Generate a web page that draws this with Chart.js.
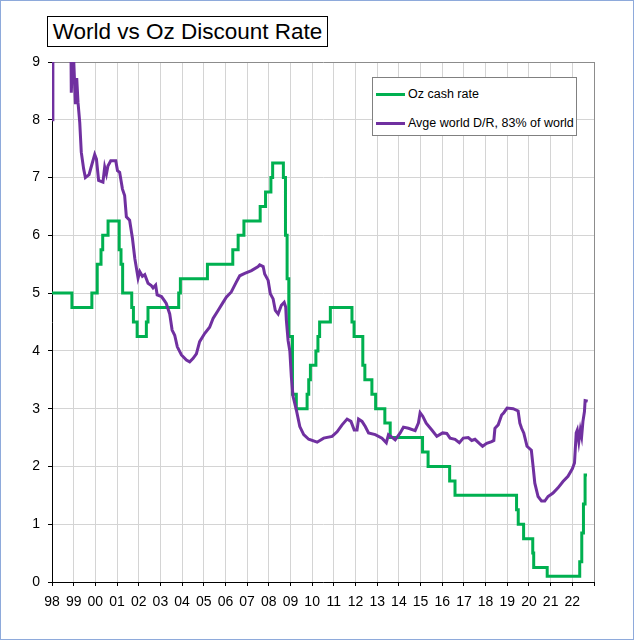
<!DOCTYPE html>
<html>
<head>
<meta charset="utf-8">
<script src="https://cdn.jsdelivr.net/npm/chart.js@4.4.0/dist/chart.umd.min.js"></script>
<style>
  html, body { margin: 0; padding: 0; background: #fff; }
  #frame {
    position: relative; width: 634px; height: 640px; box-sizing: border-box;
    border: 1px solid #8eaadb; overflow: hidden;
    font-family: "Liberation Sans", Arial, sans-serif;
  }
  #chart { position: absolute; left: -1px; top: -1px; }
  #title {
    position: absolute; left: 46px; top: 15px; width: 281px; height: 31px;
    box-sizing: border-box; border: 1px solid #000; background: #fff;
    font-size: 22.5px; line-height: 29px; text-align: center; color: #000;
  }
  #legend {
    position: absolute; left: 371px; top: 76px; width: 205px; height: 59px;
    box-sizing: border-box; border: 1px solid #808080; background: #fff;
    font-size: 12.5px; color: #000;
  }
  .item { position: absolute; left: 3px; height: 14px; display: flex; align-items: center; white-space: nowrap; }
  .item span.swatch { display: inline-block; width: 29px; height: 3px; margin-right: 3px; }
</style>
</head>
<body>
<div id="frame">
  <canvas id="chart" width="634" height="640"></canvas>
  <div id="title">World vs Oz Discount Rate</div>
  <div id="legend"></div>
</div>
<script>
// Oz cash rate: date of each change and the new rate
const ozDates = [
  '1998-01-01', '1998-12-02', '1999-11-03', '2000-02-02', '2000-04-05', '2000-05-03',
  '2000-08-02', '2001-02-07', '2001-03-07', '2001-04-04', '2001-09-05', '2001-10-03',
  '2001-12-05', '2002-05-08', '2002-06-05', '2003-11-05', '2003-12-03', '2005-03-02',
  '2006-05-03', '2006-08-02', '2006-11-08', '2007-08-08', '2007-11-07', '2008-02-06',
  '2008-03-05', '2008-09-03', '2008-10-08', '2008-11-05', '2008-12-03', '2009-02-04',
  '2009-04-08', '2009-10-07', '2009-11-04', '2009-12-02', '2010-03-03', '2010-04-07',
  '2010-05-05', '2010-11-03', '2011-11-02', '2011-12-07', '2012-05-02', '2012-06-06',
  '2012-10-03', '2012-12-05', '2013-05-08', '2013-08-07', '2015-02-04', '2015-05-06',
  '2016-05-04', '2016-08-03', '2019-06-05', '2019-07-03', '2019-10-02', '2020-03-04',
  '2020-03-20', '2020-11-04', '2022-05-04', '2022-06-08', '2022-07-06', '2022-08-03',
  '2022-09-05'
];
const ozRates = [
  5.00, 4.75, 5.00, 5.50, 5.75, 6.00,
  6.25, 5.75, 5.50, 5.00, 4.75, 4.50,
  4.25, 4.50, 4.75, 5.00, 5.25, 5.50,
  5.75, 6.00, 6.25, 6.50, 6.75, 7.00,
  7.25, 7.00, 6.00, 5.25, 4.25, 3.25,
  3.00, 3.25, 3.50, 3.75, 4.00, 4.25,
  4.50, 4.75, 4.50, 4.25, 3.75, 3.50,
  3.25, 3.00, 2.75, 2.50, 2.25, 2.00,
  1.75, 1.50, 1.25, 1.00, 0.75, 0.50,
  0.25, 0.10, 0.35, 0.85, 1.35, 1.85,
  1.85
];

// average world discount rate (decimal years)
const worldYears = [
  1998.00, 1998.04, 1998.40, 1998.86, 1998.89, 1998.95, 1999.00, 1999.08, 1999.14, 1999.20,
  1999.28, 1999.35, 1999.46, 1999.54, 1999.71, 1999.82, 1999.97, 2000.05, 2000.15, 2000.35,
  2000.43, 2000.51, 2000.58, 2000.71, 2000.94, 2001.02, 2001.12, 2001.25, 2001.35, 2001.43,
  2001.58, 2001.71, 2001.82, 2001.97, 2002.05, 2002.17, 2002.28, 2002.43, 2002.58, 2002.66,
  2002.78, 2002.85, 2003.05, 2003.20, 2003.27, 2003.43, 2003.54, 2003.66, 2003.78, 2003.97,
  2004.20, 2004.35, 2004.51, 2004.66, 2004.81, 2005.04, 2005.27, 2005.43, 2005.66, 2005.89,
  2006.04, 2006.27, 2006.50, 2006.66, 2006.89, 2007.20, 2007.51, 2007.58, 2007.74, 2007.81,
  2007.97, 2008.07, 2008.20, 2008.30, 2008.43, 2008.58, 2008.71, 2008.78, 2008.81, 2008.89,
  2008.97, 2009.04, 2009.12, 2009.27, 2009.43, 2009.61, 2009.84, 2010.23, 2010.53, 2010.92,
  2011.15, 2011.38, 2011.61, 2011.79, 2011.94, 2012.07, 2012.14, 2012.30, 2012.45, 2012.60,
  2012.91, 2013.22, 2013.42, 2013.52, 2013.63, 2013.83, 2014.06, 2014.21, 2014.44, 2014.75,
  2014.90, 2014.98, 2015.10, 2015.26, 2015.52, 2015.75, 2016.02, 2016.21, 2016.36, 2016.59,
  2016.79, 2016.97, 2017.20, 2017.36, 2017.51, 2017.71, 2017.86, 2018.05, 2018.28, 2018.38,
  2018.43, 2018.58, 2018.74, 2018.84, 2018.99, 2019.27, 2019.50, 2019.58, 2019.66, 2019.76,
  2019.91, 2020.11, 2020.19, 2020.27, 2020.42, 2020.58, 2020.73, 2020.88, 2021.11, 2021.34,
  2021.57, 2021.80, 2022.00, 2022.10, 2022.18, 2022.23, 2022.30, 2022.37, 2022.43, 2022.49,
  2022.56, 2022.59, 2022.71
];
const worldRates = [
  8.00, 9.60, 10.20, 10.00, 8.47, 9.10, 9.05, 8.27, 8.72, 8.30,
  7.95, 7.44, 7.15, 7.00, 7.05, 7.20, 7.40, 7.32, 6.95, 6.92,
  7.18, 7.06, 7.20, 7.29, 7.29, 7.12, 7.09, 6.80, 6.69, 6.32,
  6.26, 5.95, 5.60, 5.26, 5.37, 5.29, 5.32, 5.17, 5.13, 5.09,
  5.14, 4.97, 4.94, 4.86, 4.82, 4.64, 4.36, 4.27, 4.07, 3.93,
  3.84, 3.81, 3.87, 3.95, 4.16, 4.30, 4.41, 4.56, 4.70, 4.84,
  4.93, 5.02, 5.19, 5.30, 5.34, 5.39, 5.46, 5.49, 5.46, 5.33,
  5.22, 4.99, 4.90, 4.70, 4.64, 4.79, 4.84, 4.76, 4.53, 4.18,
  4.00, 3.55, 3.21, 2.98, 2.69, 2.55, 2.47, 2.42, 2.49, 2.52,
  2.60, 2.72, 2.82, 2.78, 2.63, 2.63, 2.82, 2.78, 2.69, 2.58,
  2.55, 2.49, 2.41, 2.55, 2.52, 2.46, 2.58, 2.68, 2.66, 2.62,
  2.75, 2.93, 2.87, 2.75, 2.63, 2.52, 2.58, 2.57, 2.49, 2.47,
  2.41, 2.49, 2.50, 2.45, 2.47, 2.40, 2.35, 2.40, 2.43, 2.45,
  2.66, 2.72, 2.89, 2.93, 3.01, 3.00, 2.96, 2.75, 2.66, 2.58,
  2.35, 2.28, 2.00, 1.71, 1.48, 1.40, 1.40, 1.48, 1.54, 1.63,
  1.74, 1.83, 1.96, 2.06, 2.58, 2.63, 2.43, 2.63, 2.52, 2.78,
  2.95, 3.14, 3.13
];

const yearTicks = [1998, 1999, 2000, 2001, 2002, 2003, 2004, 2005, 2006, 2007, 2008, 2009,
  2010, 2011, 2012, 2013, 2014, 2015, 2016, 2017, 2018, 2019, 2020, 2021, 2022];
const yearLabels = ['98', '99', '00', '01', '02', '03', '04', '05', '06', '07', '08', '09',
  '10', '11', '12', '13', '14', '15', '16', '17', '18', '19', '20', '21', '22'];

const seriesNames = ['Oz cash rate', 'Avge world D/R, 83% of world'];
const seriesColors = ['#00b050', '#7030a0'];

// date string -> decimal year
function toYear(s) {
  const [y, m, d] = s.split('-').map(Number);
  return y + (m - 1) / 12 + (d - 1) / 365;
}

const ozPoints = ozDates.map((d, i) => ({ x: toYear(d), y: ozRates[i] }));
const worldPoints = worldYears.map((x, i) => ({ x: x, y: worldRates[i] }));

Chart.defaults.font.family = '"Liberation Sans", Arial, sans-serif';
Chart.defaults.color = '#000';

const ctx = document.getElementById('chart').getContext('2d');

const rateChart = new Chart(ctx, {
  type: 'line',
  data: {
    datasets: [
      {
        label: seriesNames[0],
        data: ozPoints,
        borderColor: seriesColors[0],
        backgroundColor: seriesColors[0],
        borderWidth: 3,
        stepped: true,
        pointRadius: 0,
        order: 1,
      },
      {
        label: seriesNames[1],
        data: worldPoints,
        borderColor: seriesColors[1],
        backgroundColor: seriesColors[1],
        borderWidth: 3,
        pointRadius: 0,
        tension: 0,
        order: 0,
      },
    ],
  },
  options: {
    responsive: false,
    animation: false,
    devicePixelRatio: 1,
    layout: { padding: { top: 62, right: 40, left: 1, bottom: 0 } },
    scales: {
      x: {
        type: 'linear',
        min: 1998,
        max: 2023,
        afterFit: (scale) => { scale.height = 58; },
        afterBuildTicks: (scale) => {
          scale.ticks = yearTicks.concat([2023]).map((v) => ({ value: v }));
        },
        ticks: {
          autoSkip: false,
          maxRotation: 0,
          padding: 8,
          font: { size: 14 },
          callback: (value) => {
            const i = yearTicks.indexOf(value);
            return i >= 0 ? yearLabels[i] : '';
          },
        },
        grid: {
          color: (c) => (c.tick && c.tick.value === 2023 ? '#8c8c8c' : '#d4d4d4'),
          tickColor: '#000',
          tickLength: 4,
          lineWidth: 1,
        },
        border: { color: '#000', width: 1 },
      },
      y: {
        min: 0,
        max: 9,
        afterFit: (scale) => { scale.width = 51; },
        ticks: {
          stepSize: 1,
          padding: 8,
          font: { size: 14 },
        },
        grid: {
          color: (c) => (c.tick && c.tick.value === 9 ? '#8c8c8c' : '#d4d4d4'),
          tickColor: '#000',
          tickLength: 4,
          lineWidth: 1,
        },
        border: { color: '#000', width: 1 },
      },
    },
    plugins: {
      legend: { display: false },
      tooltip: { enabled: false },
    },
  },
});

// legend box inside the plot, built from the datasets
const legend = document.getElementById('legend');
rateChart.data.datasets.forEach((ds, i) => {
  const row = document.createElement('div');
  row.className = 'item';
  row.style.top = (i === 0 ? 9 : 38) + 'px';
  row.innerHTML = '<span class="swatch" style="background:' + ds.borderColor + '"></span>' + ds.label;
  legend.appendChild(row);
});
</script>
</body>
</html>
